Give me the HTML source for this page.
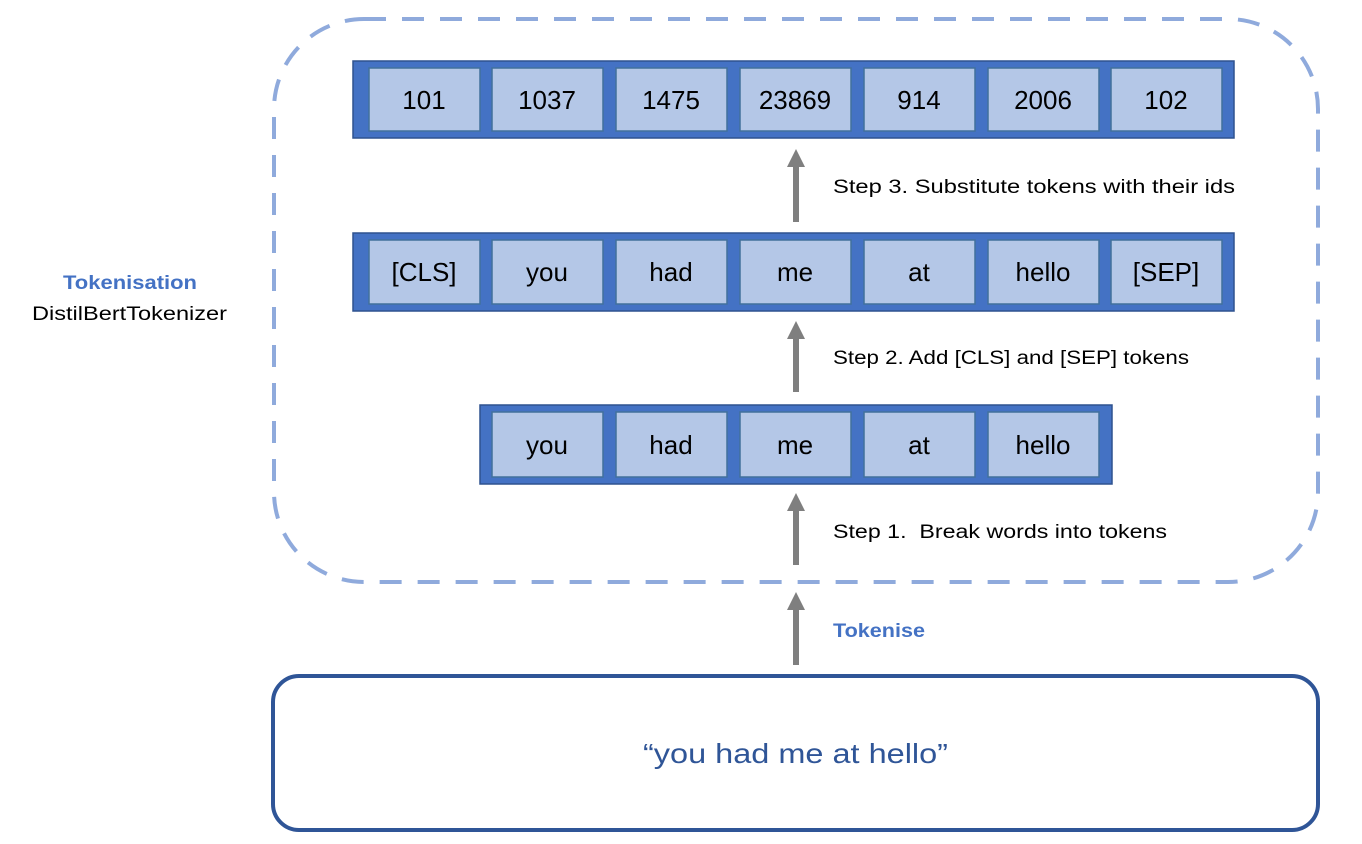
<!DOCTYPE html>
<html><head><meta charset="utf-8"><style>
html,body{margin:0;padding:0;background:#fff;}
svg{display:block;font-family:"Liberation Sans",sans-serif;}
.c{fill:#b4c7e7;stroke:#41719c;stroke-width:1.5}
.o{fill:#4472c4;stroke:#2f528f;stroke-width:1.5}
.t{font-size:26px;fill:#000;text-anchor:middle}
.s{font-size:19px;fill:#000}
</style></head><body>
<svg width="1362" height="844" viewBox="0 0 1362 844">
<rect x="274" y="19" width="1044" height="563" rx="90" fill="none" stroke="#8faadc" stroke-width="4" stroke-dasharray="22 16"/>
<rect class="o" x="353" y="61" width="881" height="77"/>
<g class="c">
<rect x="369" y="68" width="111" height="63"/><rect x="492" y="68" width="111" height="63"/><rect x="616" y="68" width="111" height="63"/><rect x="740" y="68" width="111" height="63"/><rect x="864" y="68" width="111" height="63"/><rect x="988" y="68" width="111" height="63"/><rect x="1111" y="68" width="111" height="63"/>
</g>
<g class="t">
<text x="424" y="109">101</text><text x="547" y="109">1037</text><text x="671" y="109">1475</text><text x="795" y="109">23869</text><text x="919" y="109">914</text><text x="1043" y="109">2006</text><text x="1166" y="109">102</text>
</g>
<rect class="o" x="353" y="233" width="881" height="78"/>
<g class="c">
<rect x="369" y="240" width="111" height="64"/><rect x="492" y="240" width="111" height="64"/><rect x="616" y="240" width="111" height="64"/><rect x="740" y="240" width="111" height="64"/><rect x="864" y="240" width="111" height="64"/><rect x="988" y="240" width="111" height="64"/><rect x="1111" y="240" width="111" height="64"/>
</g>
<g class="t">
<text x="424" y="281">[CLS]</text><text x="547" y="281">you</text><text x="671" y="281">had</text><text x="795" y="281">me</text><text x="919" y="281">at</text><text x="1043" y="281">hello</text><text x="1166" y="281">[SEP]</text>
</g>
<rect class="o" x="480" y="405" width="632" height="79"/>
<g class="c">
<rect x="492" y="412" width="111" height="65"/><rect x="616" y="412" width="111" height="65"/><rect x="740" y="412" width="111" height="65"/><rect x="864" y="412" width="111" height="65"/><rect x="988" y="412" width="111" height="65"/>
</g>
<g class="t">
<text x="547" y="454">you</text><text x="671" y="454">had</text><text x="795" y="454">me</text><text x="919" y="454">at</text><text x="1043" y="454">hello</text>
</g>
<g fill="#7f7f7f">
<rect x="793" y="166" width="6" height="56"/><polygon points="787,167 805,167 796,149"/>
<rect x="793" y="338" width="6" height="54"/><polygon points="787,339 805,339 796,321"/>
<rect x="793" y="510" width="6" height="55"/><polygon points="787,511 805,511 796,493"/>
<rect x="793" y="609" width="6" height="56"/><polygon points="787,610 805,610 796,592"/>
</g>
<text class="s" x="833" y="193" textLength="402" lengthAdjust="spacingAndGlyphs">Step 3. Substitute tokens with their ids</text>
<text class="s" x="833" y="364" textLength="356" lengthAdjust="spacingAndGlyphs">Step 2. Add [CLS] and [SEP] tokens</text>
<text class="s" x="833" y="538" textLength="334" lengthAdjust="spacingAndGlyphs">Step 1.&#160; Break words into tokens</text>
<text x="833" y="637" font-size="19" font-weight="bold" fill="#4472c4" textLength="92" lengthAdjust="spacingAndGlyphs">Tokenise</text>
<text x="63" y="289" font-size="19" font-weight="bold" fill="#4472c4" textLength="134" lengthAdjust="spacingAndGlyphs">Tokenisation</text>
<text x="32" y="320" font-size="19" fill="#000" textLength="195" lengthAdjust="spacingAndGlyphs">DistilBertTokenizer</text>
<rect x="273" y="676" width="1045" height="154" rx="26" fill="#fff" stroke="#2f5597" stroke-width="4"/>
<text x="643" y="763" font-size="28" fill="#2f5597" textLength="305" lengthAdjust="spacingAndGlyphs">“you had me at hello”</text>
</svg>
</body></html>
